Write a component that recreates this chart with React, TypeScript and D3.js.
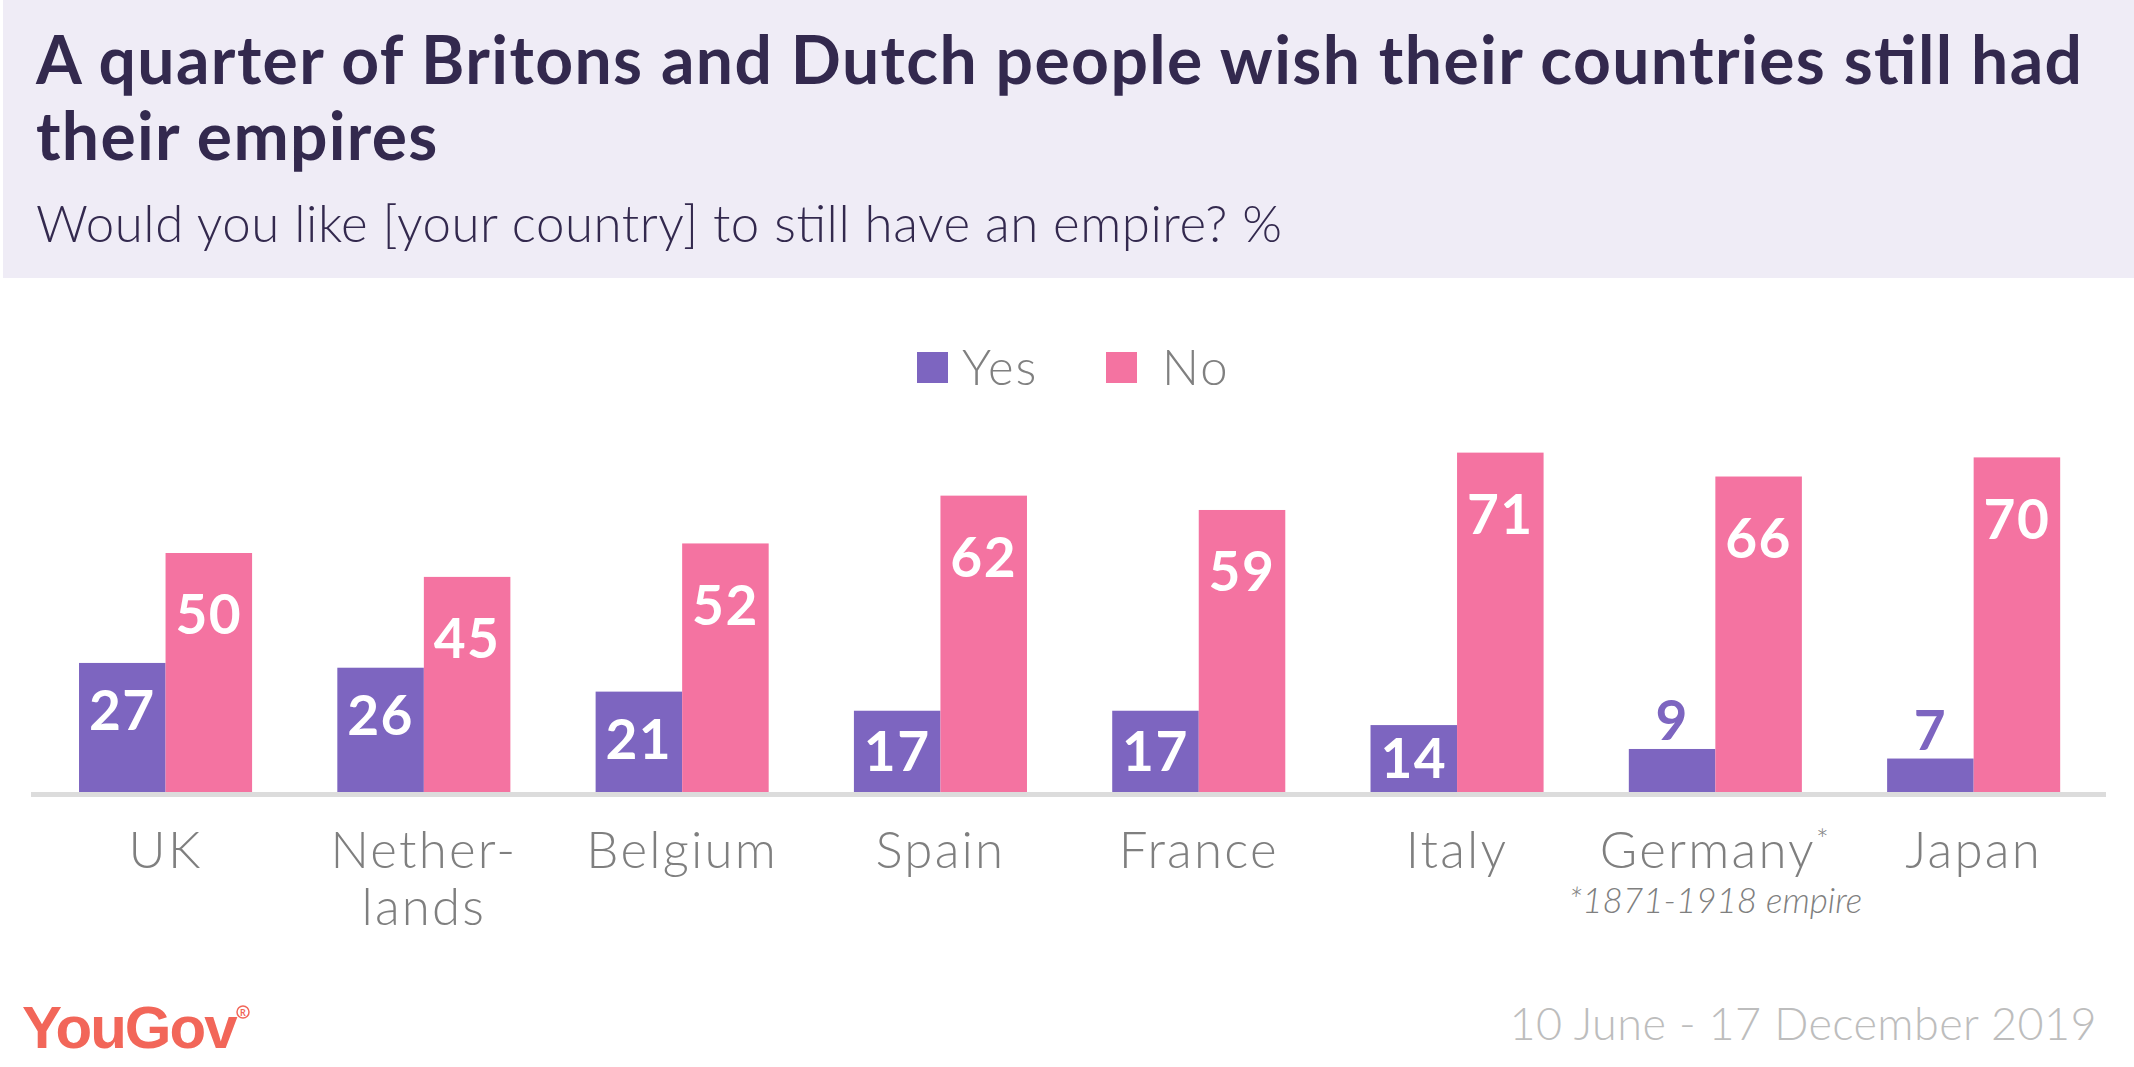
import React from "react";
import * as d3 from "d3";

const categories = ["UK", "Netherlands", "Belgium", "Spain", "France", "Italy", "Germany", "Japan"];
const categoryLines = [["UK"], ["Nether-", "lands"], ["Belgium"], ["Spain"], ["France"], ["Italy"], ["Germany"], ["Japan"]];
const yesValues = [27, 26, 21, 17, 17, 14, 9, 7];
const noValues = [50, 45, 52, 62, 59, 71, 66, 70];
const seriesNames = ["Yes", "No"];
const seriesColors = ["#7d65c0", "#f473a1"];

const W = 2134;
const H = 1067;
const FONT = "Lato, 'Open Sans', sans-serif";

export default function App() {
  const baseY = 792;
  const x = d3.scaleBand<string>().domain(categories).range([36.4, 2102.8]).paddingInner(0.33).paddingOuter(0.165);
  const xs = d3.scaleBand<string>().domain(seriesNames).range([0, x.bandwidth()]).padding(0);
  const y = d3.scaleLinear().domain([0, 100]).range([baseY, baseY - 478]);

  const labelOffset = (h: number) => Math.min(62, Math.max(h * 0.35, Math.min(h / 2, 48)));

  const bars: any[] = [];
  categories.forEach((c, i) => {
    [yesValues[i], noValues[i]].forEach((v, si) => {
      const bx = (x(c) as number) + (xs(seriesNames[si]) as number);
      const top = y(v);
      const h = baseY - top;
      const bw = xs.bandwidth();
      const inside = h >= 60;
      bars.push(
        <g key={c + si}>
          <rect x={bx} y={top} width={bw} height={h} fill={seriesColors[si]} />
          <text
            x={bx + bw / 2}
            y={inside ? top + labelOffset(h) : top - 28}
            dy="0.35em"
            textAnchor="middle"
            fontFamily={FONT}
            fontWeight={700}
            fontSize={55}
            letterSpacing={1.5}
            fill={inside ? "#ffffff" : seriesColors[si]}
          >
            {v}
          </text>
        </g>
      );
    });
  });

  return (
    <svg width={W} height={H} viewBox={`0 0 ${W} ${H}`} style={{ position: "absolute", left: 0, top: 0, background: "#fff" }}>
      <rect x={3} y={0} width={W - 3} height={278} fill="#efecf6" />
      <text x={36} y={84} fontFamily={FONT} fontWeight={700} fontSize={66} textLength={2046} lengthAdjust="spacing" fill="#33294e">
        A quarter of Britons and Dutch people wish their countries still had
      </text>
      <text x={36} y={160} fontFamily={FONT} fontWeight={700} fontSize={66} letterSpacing={1.3} fill="#33294e">
        their empires
      </text>
      <text x={36} y={242} fontFamily={FONT} fontWeight={300} fontSize={51} textLength={1246} lengthAdjust="spacing" fill="#33294e">
        Would you like [your country] to still have an empire? %
      </text>

      {/* legend */}
      <rect x={917} y={352} width={31} height={31} fill={seriesColors[0]} />
      <text x={962} y={385} fontFamily={FONT} fontWeight={300} fontSize={49} letterSpacing={2} fill="#808080">{seriesNames[0]}</text>
      <rect x={1106} y={352} width={31} height={31} fill={seriesColors[1]} />
      <text x={1162} y={385} fontFamily={FONT} fontWeight={300} fontSize={49} letterSpacing={2} fill="#808080">{seriesNames[1]}</text>

      {bars}

      <rect x={31} y={792} width={2075} height={5} fill="#dcdcdc" />

      {categories.map((c, i) => {
        const cx = (x(c) as number) + x.bandwidth() / 2;
        return (
          <text key={c} x={cx} y={868} textAnchor="middle" fontFamily={FONT} fontWeight={300} fontSize={51} letterSpacing={2.2} fill="#7f7f7f">
            {categoryLines[i].map((line, li) => (
              <tspan key={li} x={cx} dy={li === 0 ? 0 : 57}>{line}</tspan>
            ))}
            {c === "Germany" ? <tspan dy={-18} fontSize={30}>*</tspan> : null}
          </text>
        );
      })}
      <text
        x={(x("Germany") as number) + x.bandwidth() / 2}
        y={913}
        textAnchor="middle"
        fontFamily={FONT}
        fontStyle="italic"
        fontWeight={300}
        fontSize={35}
        fill="#7f7f7f"
      >
        *1871-1918 empire
      </text>

      {/* footer */}
      <text x={22} y={1048} fontFamily="'Liberation Sans', Arial, sans-serif" fontWeight={700} fontSize={60} letterSpacing={-2} fill="#f26659">
        YouGov
      </text>
      <circle cx={243} cy={1012} r={6} fill="none" stroke="#f26659" strokeWidth={1.5} />
      <text x={243} y={1015.5} textAnchor="middle" fontFamily={FONT} fontWeight={700} fontSize={9} fill="#f26659">R</text>
      <text x={2097} y={1040} textAnchor="end" fontFamily={FONT} fontWeight={300} fontSize={45} letterSpacing={0.4} fill="#bdbdbd">
        10 June - 17 December 2019
      </text>
    </svg>
  );
}
